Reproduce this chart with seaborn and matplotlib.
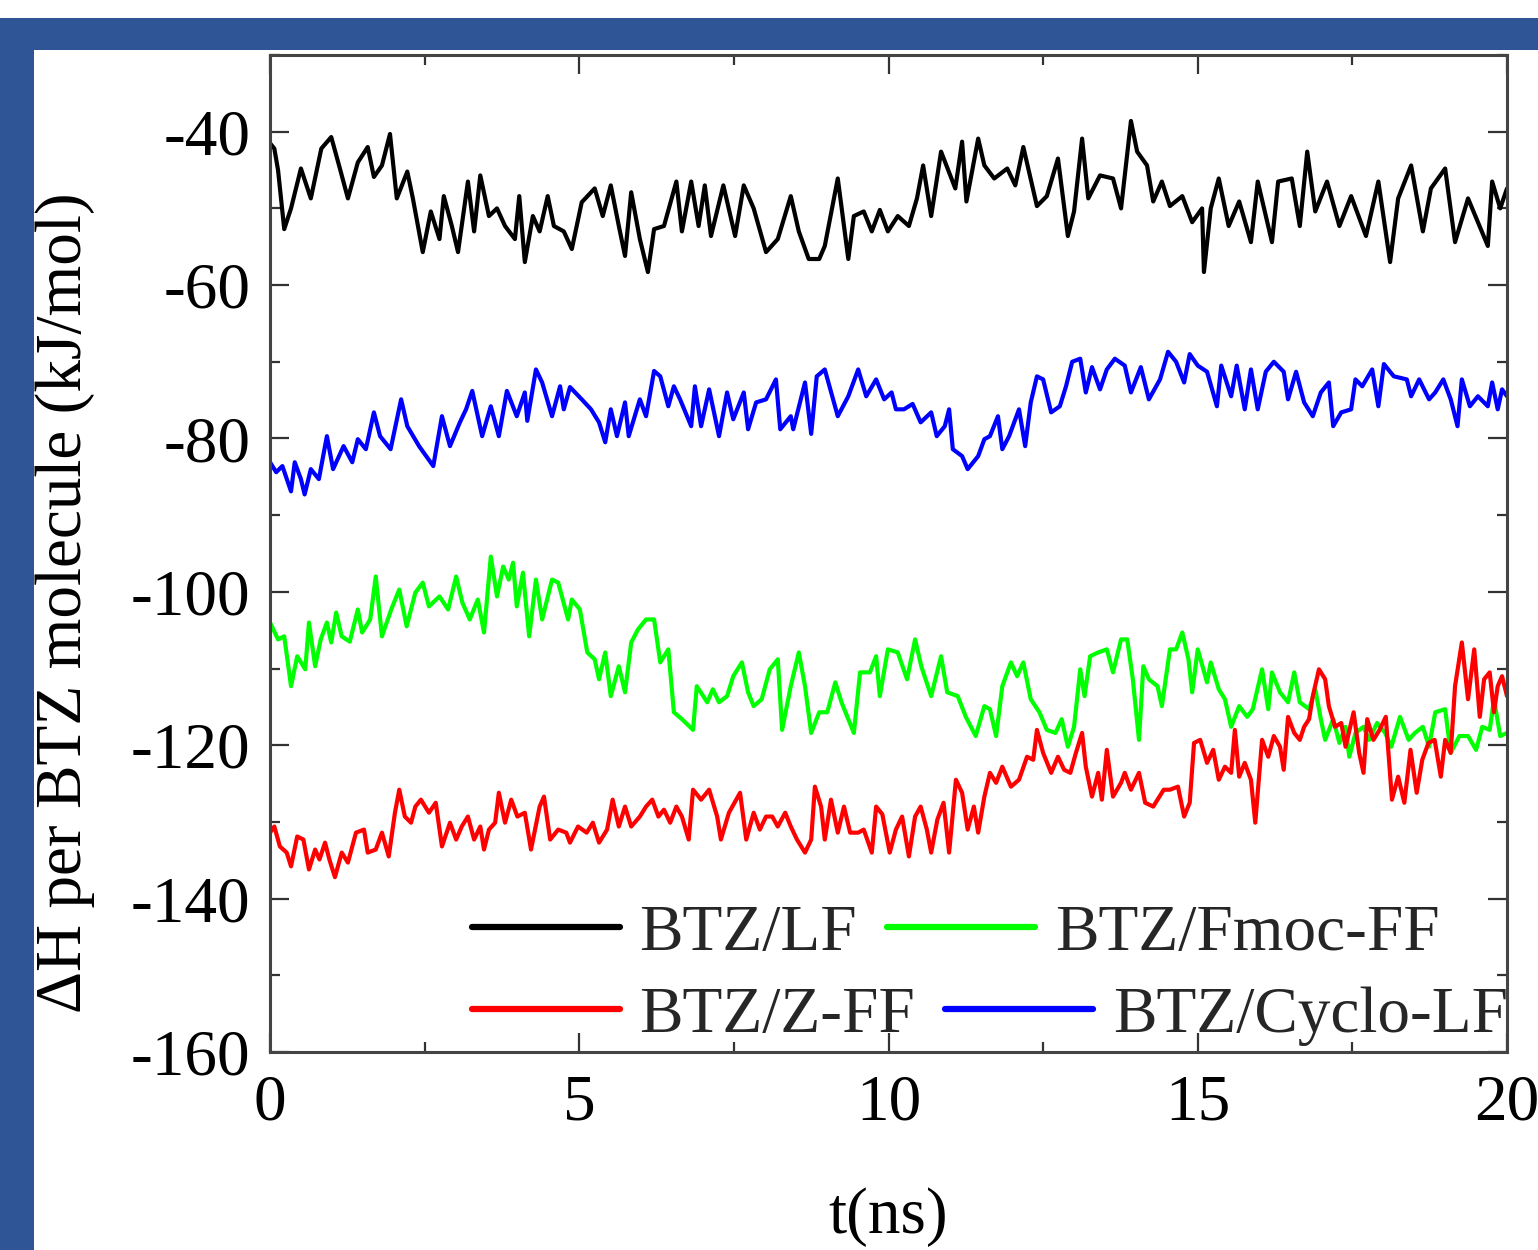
import matplotlib
matplotlib.use("Agg")
import matplotlib.pyplot as plt
import seaborn as sns
import pandas as pd
from matplotlib.patches import Rectangle
from matplotlib.ticker import MultipleLocator
from matplotlib.lines import Line2D

# ---------------- data (t in ns, dH in kJ/mol) ----------------
LABELS = ["BTZ/LF", "BTZ/Fmoc-FF", "BTZ/Z-FF", "BTZ/Cyclo-LF"]
COLORS = ["#000000", "#00ff00", "#ff0000", "#0000ff"]

LF = [(0.0,-41.5),(0.07,-42.2),(0.13,-45),(0.23,-52.7),(0.34,-50),(0.5,-44.8),(0.66,-48.7),(0.83,-42.2),
      (0.99,-40.7),(1.13,-44.8),(1.26,-48.7),(1.42,-44),(1.58,-42),(1.68,-45.9),(1.81,-44.4),(1.94,-40.3),
      (2.05,-48.7),(2.22,-45.2),(2.31,-48.7),(2.47,-55.7),(2.6,-50.4),(2.74,-54),(2.81,-48.4),(2.94,-52.3),
      (3.04,-55.7),(3.2,-46.5),(3.3,-53),(3.4,-45.7),(3.54,-51),(3.67,-50),(3.8,-52.3),(3.96,-54),
      (4.03,-48.4),(4.12,-57),(4.25,-51),(4.36,-53),(4.49,-48.4),(4.59,-52.3),(4.75,-53),(4.88,-55.3),
      (5.04,-49.2),(5.25,-47.4),(5.38,-51),(5.51,-47),(5.64,-52.3),(5.74,-56.2),(5.84,-47.9),(5.98,-54),
      (6.11,-58.3),(6.21,-52.7),(6.37,-52.3),(6.57,-46.5),(6.66,-53),(6.81,-46.5),(6.93,-52.3),(7.03,-47),
      (7.13,-53.6),(7.33,-47),(7.52,-53.6),(7.66,-47),(7.82,-50),(8.02,-55.7),(8.21,-54),(8.42,-48.4),
      (8.55,-53),(8.71,-56.6),(8.88,-56.6),(8.97,-54.9),(9.18,-46.1),(9.35,-56.6),(9.44,-51),(9.6,-50.4),
      (9.73,-53),(9.86,-50.2),(9.99,-53),(10.15,-51),(10.33,-52.3),(10.46,-48.7),(10.56,-44.4),(10.69,-51),
      (10.85,-42.6),(11.08,-47.4),(11.19,-41.3),(11.26,-49.1),(11.45,-40.9),(11.55,-44.4),(11.71,-46.1),
      (11.92,-44.8),(12.05,-47),(12.18,-42),(12.4,-49.7),(12.56,-48.4),(12.74,-43.5),(12.9,-53.6),(13.0,-50.4),
      (13.13,-40.9),(13.23,-48.7),(13.42,-45.7),(13.63,-46.1),(13.76,-50),(13.92,-38.6),(14.02,-42.6),
      (14.18,-44.4),(14.28,-49.1),(14.42,-46.5),(14.55,-49.7),(14.75,-48.4),(14.91,-51.8),(15.07,-50),
      (15.1,-58.3),(15.21,-50),(15.34,-46.1),(15.5,-52.3),(15.67,-49.1),(15.86,-54.4),(15.97,-46.5),
      (16.2,-54.4),(16.3,-46.5),(16.52,-46.1),(16.65,-52.3),(16.77,-42.6),(16.9,-50.4),(17.09,-46.5),
      (17.29,-52.3),(17.48,-48.4),(17.72,-53.6),(17.92,-46.5),(18.11,-57),(18.24,-48.7),(18.45,-44.4),
      (18.64,-53),(18.77,-47.4),(19.0,-44.8),(19.16,-54.4),(19.37,-48.7),(19.53,-51.8),(19.69,-54.9),
      (19.76,-46.5),(19.89,-50),(20.0,-47.4)]

CYCLO_LF = [(0,-83.1),(0.1,-84.4),(0.2,-83.6),(0.34,-86.9),(0.4,-83.1),(0.5,-85.3),(0.56,-87.3),(0.66,-84),
      (0.79,-85.3),(0.92,-79.7),(1.02,-84),(1.19,-81),(1.33,-83.1),(1.42,-80.1),(1.55,-81.4),(1.68,-76.6),
      (1.78,-79.7),(1.95,-81.4),(2.12,-74.9),(2.22,-78.4),(2.41,-81),(2.64,-83.6),(2.78,-77.1),(2.91,-81),
      (3.07,-77.9),(3.17,-76.2),(3.27,-73.8),(3.43,-79.7),(3.57,-75.8),(3.7,-79.7),(3.83,-73.8),(3.99,-77.1),
      (4.12,-74),(4.16,-77.7),(4.3,-71),(4.4,-72.7),(4.56,-77.1),(4.69,-73.2),(4.75,-76.2),(4.85,-73.3),
      (5.04,-74.9),(5.19,-76.2),(5.32,-77.9),(5.42,-80.5),(5.51,-76.2),(5.61,-79.7),(5.74,-75.3),(5.8,-79.7),
      (5.98,-74.9),(6.08,-77.1),(6.21,-71.2),(6.31,-71.9),(6.44,-75.8),(6.53,-73.2),(6.63,-74.9),(6.81,-78.4),
      (6.87,-73.2),(6.97,-78.4),(7.1,-73.6),(7.26,-79.7),(7.39,-74),(7.49,-77.5),(7.66,-74),(7.73,-78.8),
      (7.86,-75.3),(8.02,-74.9),(8.18,-72.3),(8.25,-78.8),(8.42,-77.1),(8.46,-78.8),(8.65,-72.7),(8.75,-79.4),
      (8.84,-71.9),(8.97,-71),(9.18,-77.1),(9.35,-74.5),(9.51,-71),(9.64,-74.5),(9.8,-72.3),(9.93,-74.9),
      (10.05,-74),(10.12,-76.2),(10.25,-76.2),(10.39,-75.5),(10.52,-77.9),(10.69,-76.6),(10.78,-79.7),
      (10.91,-78.4),(10.98,-76.2),(11.04,-81.4),(11.19,-82.3),(11.28,-84),(11.45,-82.3),(11.55,-80.1),
      (11.64,-79.7),(11.77,-77.1),(11.84,-81.4),(11.95,-79.7),(12.11,-76.2),(12.21,-81),(12.3,-75.3),
      (12.4,-71.9),(12.5,-72.3),(12.63,-76.6),(12.77,-75.8),(12.87,-73.2),(12.97,-70),(13.1,-69.6),
      (13.19,-74),(13.29,-70.7),(13.42,-73.6),(13.53,-71),(13.66,-69.6),(13.82,-70.5),(13.92,-74),
      (14.08,-70.7),(14.21,-74.9),(14.39,-72.3),(14.52,-68.7),(14.65,-70),(14.78,-72.7),(14.87,-69),
      (15,-70.5),(15.15,-71.3),(15.31,-75.8),(15.38,-70.5),(15.54,-74.5),(15.63,-70.5),(15.76,-76.2),
      (15.86,-71),(15.97,-76.2),(16.1,-71.3),(16.23,-70),(16.39,-71.3),(16.46,-74.9),(16.59,-71.3),
      (16.72,-75.3),(16.86,-77.1),(16.99,-74),(17.12,-72.7),(17.19,-78.4),(17.32,-76.6),(17.48,-76.2),
      (17.55,-72.3),(17.66,-73.2),(17.82,-71),(17.92,-75.8),(18.01,-70.3),(18.17,-71.9),(18.38,-72.3),
      (18.45,-74.5),(18.58,-72.3),(18.74,-74.9),(18.84,-74),(18.97,-72.3),(19.09,-74.9),(19.2,-78.4),
      (19.27,-72.3),(19.4,-75.8),(19.53,-74.5),(19.69,-75.8),(19.76,-72.7),(19.85,-76.2),(19.92,-73.6),
      (20,-74.5)]

FMOC_FF = [(0.0,-104),(0.03,-104.5),(0.13,-106.2),(0.23,-105.8),(0.34,-112.3),(0.44,-108.4),(0.57,-110.1),
      (0.63,-104),(0.73,-109.7),(0.82,-106.2),(0.92,-104),(0.99,-106.6),(1.07,-102.7),(1.16,-105.8),
      (1.29,-106.5),(1.42,-102.3),(1.49,-105.3),(1.62,-103.6),(1.71,-98),(1.81,-105.8),(1.96,-102.3),
      (2.09,-99.7),(2.21,-104.5),(2.35,-100.1),(2.47,-98.8),(2.57,-101.9),(2.74,-100.6),(2.88,-102.3),
      (3.01,-98),(3.11,-101.4),(3.23,-103.6),(3.36,-101),(3.46,-105.3),(3.57,-95.4),(3.67,-100.6),
      (3.77,-96.7),(3.86,-98.4),(3.93,-96.2),(3.99,-101.9),(4.09,-97.5),(4.19,-105.8),(4.3,-98.4),
      (4.4,-103.6),(4.56,-98.4),(4.66,-98.8),(4.82,-103.6),(4.88,-101),(5.01,-102.3),(5.13,-107.9),
      (5.25,-108.8),(5.32,-111.4),(5.42,-107.9),(5.51,-113.6),(5.64,-109.7),(5.74,-113.1),(5.84,-106.6),
      (5.95,-104.9),(6.08,-103.6),(6.21,-103.6),(6.31,-109.2),(6.44,-107.5),(6.53,-115.7),(6.66,-116.6),
      (6.84,-118),(6.9,-112.3),(7.07,-114.4),(7.16,-112.7),(7.26,-114.4),(7.39,-113.6),(7.49,-111),
      (7.63,-109.2),(7.73,-113.1),(7.82,-114.9),(7.95,-114),(8.08,-110.1),(8.21,-108.8),(8.28,-118),
      (8.42,-112.3),(8.55,-107.9),(8.65,-112.3),(8.75,-118.4),(8.88,-115.7),(9.01,-115.7),(9.14,-111.8),
      (9.24,-114.4),(9.35,-116.6),(9.44,-118.4),(9.54,-110.5),(9.7,-110.5),(9.8,-108.4),(9.86,-113.6),
      (9.99,-107.5),(10.15,-107.9),(10.3,-111.4),(10.43,-106.2),(10.53,-109.7),(10.69,-113.6),
      (10.85,-108.4),(10.95,-113.1),(11.12,-113.6),(11.25,-116.3),(11.41,-118.8),(11.55,-114.9),
      (11.64,-115.3),(11.74,-118.8),(11.84,-112.3),(11.98,-109.2),(12.08,-111),(12.18,-109.2),(12.3,-114),
      (12.44,-115.7),(12.56,-118),(12.7,-118.4),(12.8,-116.6),(12.9,-120.2),(13.0,-117.6),(13.1,-110.1),
      (13.17,-113.6),(13.26,-108.4),(13.39,-107.9),(13.53,-107.5),(13.63,-110.5),(13.76,-106.2),
      (13.86,-106.2),(13.95,-111.4),(14.05,-119.3),(14.12,-109.7),(14.21,-111.4),(14.35,-112.3),
      (14.42,-114.9),(14.55,-107.5),(14.65,-107.5),(14.75,-105.3),(14.85,-108.8),(14.91,-113.1),
      (15.0,-107.5),(15.15,-111.8),(15.21,-109.2),(15.34,-112.7),(15.44,-114),(15.54,-117.6),(15.67,-114.9),
      (15.8,-116.3),(15.89,-115.3),(16.04,-110.1),(16.14,-115.3),(16.2,-110.5),(16.33,-113.1),(16.46,-114.4),
      (16.56,-110.5),(16.65,-114.4),(16.8,-115.3),(16.9,-112.7),(16.99,-116.6),(17.06,-119.3),(17.19,-116.6),
      (17.29,-119.7),(17.39,-117.6),(17.45,-121.5),(17.55,-118.4),(17.68,-117.6),(17.77,-119.3),
      (17.9,-117.1),(18.03,-118.4),(18.13,-120.2),(18.27,-116.3),(18.41,-119.3),(18.51,-118.4),
      (18.64,-117.6),(18.74,-120.2),(18.84,-115.7),(19.0,-115.3),(19.09,-121),(19.23,-118.8),(19.37,-118.8),
      (19.5,-120.6),(19.6,-117.6),(19.72,-118),(19.79,-114),(19.89,-118.8),(20.0,-118.4)]

Z_FF = [(0.0,-131.4),(0.07,-130.6),(0.16,-133.2),(0.27,-134),(0.34,-135.8),(0.44,-131.9),(0.54,-132.3),
      (0.63,-136.2),(0.73,-133.6),(0.8,-134.9),(0.89,-132.7),(0.96,-134.9),(1.05,-137.2),(1.16,-134),
      (1.26,-135.3),(1.39,-131.4),(1.52,-131),(1.58,-134),(1.71,-133.6),(1.81,-131.4),(1.92,-134.5),
      (2.02,-128.8),(2.09,-125.8),(2.18,-129.3),(2.28,-130.1),(2.35,-128),(2.44,-127.1),(2.57,-128.8),
      (2.68,-127.5),(2.78,-133.2),(2.91,-130.1),(3.01,-132.3),(3.1,-130.6),(3.2,-129.3),(3.3,-132.3),
      (3.4,-130.6),(3.46,-133.6),(3.54,-131),(3.64,-130.1),(3.7,-126.2),(3.8,-130.1),(3.9,-127.1),
      (4.0,-129.3),(4.12,-128.8),(4.22,-133.6),(4.36,-128),(4.43,-126.7),(4.53,-132.3),(4.66,-131),
      (4.79,-131.4),(4.85,-132.7),(4.98,-130.6),(5.12,-131.4),(5.22,-130.1),(5.32,-132.7),(5.45,-131),
      (5.54,-127.1),(5.64,-130.6),(5.74,-128),(5.84,-130.6),(5.98,-129.3),(6.08,-128),(6.18,-127.1),
      (6.28,-129.3),(6.37,-128.4),(6.47,-130.1),(6.57,-128),(6.66,-129.3),(6.77,-132.3),(6.84,-125.8),
      (6.97,-127.1),(7.1,-125.8),(7.23,-129.3),(7.29,-132.3),(7.42,-128.8),(7.6,-126.2),(7.7,-132.3),
      (7.82,-128.8),(7.92,-131),(8.02,-129.3),(8.12,-129.3),(8.21,-130.6),(8.33,-128.8),(8.42,-130.6),
      (8.52,-132.3),(8.65,-134),(8.75,-132.3),(8.81,-125.4),(8.91,-128),(8.97,-132.3),(9.07,-127.1),
      (9.18,-131.4),(9.28,-128),(9.38,-131.4),(9.51,-131.4),(9.6,-131),(9.73,-134),(9.8,-128),(9.9,-129),
      (10.02,-134),(10.12,-131),(10.22,-129.3),(10.33,-134.5),(10.43,-129.3),(10.52,-128),(10.62,-131),
      (10.69,-134),(10.79,-129.7),(10.89,-127.5),(10.98,-134),(11.09,-124.5),(11.19,-126.2),(11.28,-131),
      (11.38,-128),(11.45,-131.4),(11.55,-126.7),(11.64,-123.6),(11.74,-124.9),(11.84,-122.8),(11.98,-125.4),
      (12.11,-124.5),(12.24,-121.5),(12.34,-121.9),(12.4,-118),(12.5,-121),(12.63,-123.6),(12.74,-121.5),
      (12.84,-123.2),(12.94,-123.6),(13.03,-121),(13.13,-118.4),(13.19,-122.8),(13.29,-126.7),(13.39,-123.6),
      (13.45,-127.1),(13.53,-120.6),(13.63,-126.7),(13.76,-124.9),(13.82,-123.6),(13.92,-125.8),(14.05,-123.6),
      (14.15,-127.5),(14.28,-128),(14.35,-127.1),(14.45,-125.8),(14.55,-125.8),(14.68,-125.4),(14.78,-129.3),
      (14.87,-127.5),(14.94,-119.7),(15.04,-119.3),(15.15,-122.3),(15.25,-120.6),(15.34,-124.5),(15.44,-122.8),
      (15.54,-123.6),(15.6,-118),(15.67,-124.1),(15.76,-122.3),(15.86,-124.5),(15.93,-130.1),(16.04,-119.3),
      (16.14,-121.5),(16.23,-118.8),(16.33,-120.2),(16.39,-123.2),(16.46,-116.3),(16.56,-118.4),(16.65,-119.3),
      (16.72,-117.6),(16.8,-116.6),(16.86,-113.6),(16.96,-110.1),(17.06,-111.4),(17.12,-114.9),(17.22,-117.6),
      (17.32,-117.1),(17.39,-120.2),(17.52,-115.7),(17.61,-121),(17.68,-123.6),(17.74,-116.6),(17.84,-119.3),
      (17.94,-118),(18.04,-116.3),(18.14,-127.1),(18.24,-124.1),(18.34,-127.5),(18.44,-120.6),(18.54,-126.2),
      (18.63,-121.9),(18.73,-119.7),(18.83,-119.3),(18.93,-124.1),(19.0,-119.3),(19.09,-121),(19.16,-112.3),
      (19.27,-106.6),(19.37,-114),(19.47,-107.5),(19.56,-116.3),(19.63,-111.4),(19.72,-110.5),(19.79,-115.7),
      (19.85,-112.3),(19.92,-111),(20.0,-113.6)]

SERIES = [LF, FMOC_FF, Z_FF, CYCLO_LF]

X_TICKS = [0, 5, 10, 15, 20]
Y_TICKS = [-160, -140, -120, -100, -80, -60, -40]

# ---------------- style ----------------
sns.set_theme(style="ticks")
plt.rcParams['font.family'] = ['Liberation Serif', 'DejaVu Serif']
plt.rcParams['axes.unicode_minus'] = False

FS = 47
W, H = 1538, 1250
fig = plt.figure(figsize=(W / 100, H / 100), dpi=100)
fig.patch.set_facecolor("white")

# blue frame
frame_c = "#2F5597"
fig.add_artist(Rectangle((0, 1 - 50 / H), 1, 32 / H, transform=fig.transFigure,
                         facecolor=frame_c, edgecolor="none", zorder=0))
fig.add_artist(Rectangle((0, 0), 34 / W, 1 - 18 / H, transform=fig.transFigure,
                         facecolor=frame_c, edgecolor="none", zorder=0))

ax = fig.add_axes([270 / W, 1 - 1052 / H, (1507 - 270) / W, (1052 - 55) / H])
ax.set_facecolor("white")

for pts, color, lab in zip(SERIES, COLORS, LABELS):
    df = pd.DataFrame(pts, columns=["t", "dH"])
    sns.lineplot(data=df, x="t", y="dH", color=color, linewidth=3.0, ax=ax,
                 estimator=None, sort=False, legend=False)

ax.set_xlim(0, 20)
ax.set_ylim(-160, -30)
ax.set_xticks(X_TICKS)
ax.set_yticks(Y_TICKS)
ax.xaxis.set_minor_locator(MultipleLocator(2.5))
ax.yaxis.set_minor_locator(MultipleLocator(10))
ax.tick_params(which="both", direction="in", top=True, right=True,
               color="#333333", width=1.6, labelsize=FS, labelcolor="black")
ax.tick_params(which="major", length=14)
ax.tick_params(which="minor", length=7)
ax.tick_params(axis="x", which="major", pad=16)
ax.tick_params(axis="y", which="major", pad=14)
for sp in ax.spines.values():
    sp.set_color("#444444")
    sp.set_linewidth(2.2)

ax.set_xlabel("t(ns)", fontsize=FS, color="black")
ax.set_ylabel("\u0394H per BTZ molecule (kJ/mol)", fontsize=FS, color="black")
ax.xaxis.set_label_coords(0.5, -0.136)
ax.yaxis.set_label_coords(-0.1415, 0.451)

# legend: two rows, each with two entries
handles = [Line2D([], [], color=c, lw=4.5) for c in COLORS]
leg_kw = dict(ncol=2, frameon=False, fontsize=FS, handlelength=2.27, handletextpad=0.3,
              columnspacing=0.46, borderpad=0, borderaxespad=0, loc="center left")
leg1 = ax.legend([handles[0], handles[1]], [LABELS[0], LABELS[1]],
                 bbox_to_anchor=(0.163, 0.118), **leg_kw)
ax.add_artist(leg1)
leg2 = ax.legend([handles[2], handles[3]], [LABELS[2], LABELS[3]],
                 bbox_to_anchor=(0.163, 0.036), **leg_kw)

fig.savefig("out.png", dpi=100)
